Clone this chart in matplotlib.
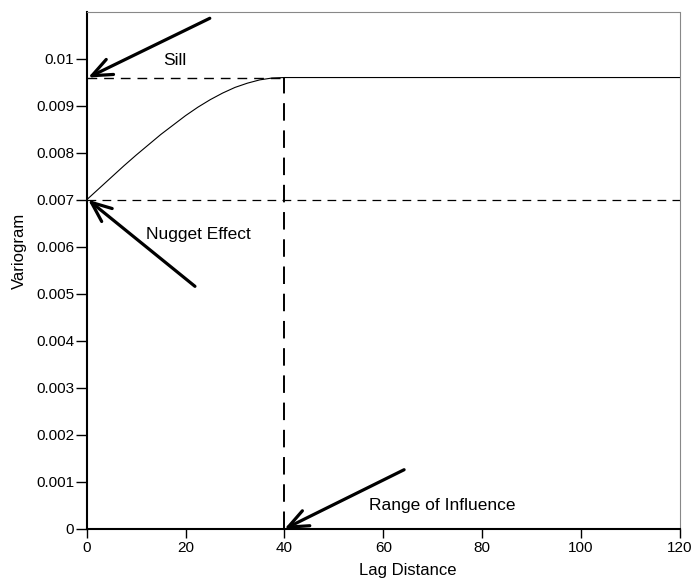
import matplotlib.pyplot as plt

plt.rcParams["font.family"] = ["Liberation Sans", "DejaVu Sans"]

# Variogram model read at a few lag distances
lag = [0, 2.5, 5, 7.5, 10, 12.5, 15, 17.5, 20, 22.5, 25, 27.5, 30, 32.5, 35, 37.5, 40, 120]
gamma = [0.00700, 0.00724, 0.00748, 0.00772, 0.00795, 0.00817, 0.00839, 0.00859,
         0.00879, 0.00897, 0.00913, 0.00927, 0.00939, 0.00948, 0.00955, 0.00959,
         0.00960, 0.00960]

nugget = 0.007
sill = 0.0096
range_of_influence = 40

fig = plt.figure(figsize=(6.94, 5.82), dpi=100)
ax = fig.add_axes([0.1249, 0.0911, 0.8549, 0.8888])

ax.plot(lag, gamma, color="black", lw=0.8)

# Reference lines for sill, nugget and range
ax.plot([0, range_of_influence], [sill, sill], color="black", lw=1.0, ls=(0, (7, 5)))
ax.plot([0, 120], [nugget, nugget], color="black", lw=0.9, ls=(0, (7, 5)))
ax.plot([range_of_influence, range_of_influence], [0, sill], color="black", lw=1.4,
        ls=(0, (9, 5)))

arrow = dict(arrowstyle="->,head_length=1.2,head_width=0.5", lw=2.3, color="black",
             shrinkA=0, shrinkB=0)
ax.annotate("", xy=(0.3, sill), xytext=(24.9, 0.01086), arrowprops=arrow, fontsize=12)
ax.annotate("", xy=(0.3, nugget), xytext=(21.9, 0.00516), arrowprops=arrow, fontsize=12)
ax.annotate("", xy=(range_of_influence, 0), xytext=(64.2, 0.00126), arrowprops=arrow,
            fontsize=12)

ax.text(15.4, 0.00996, "Sill", fontsize=12.5, va="center", ha="left")
ax.text(12.0, 0.00626, "Nugget Effect", fontsize=12.5, va="center", ha="left")
ax.text(57.1, 0.00049, "Range of Influence", fontsize=12.5, va="center", ha="left")

ax.set_xlim(0, 120)
ax.set_ylim(0, 0.011)
ax.set_xticks([0, 20, 40, 60, 80, 100, 120])
ax.set_yticks([0, 0.001, 0.002, 0.003, 0.004, 0.005, 0.006, 0.007, 0.008, 0.009, 0.01])
ax.set_yticklabels(["0", "0.001", "0.002", "0.003", "0.004", "0.005", "0.006",
                    "0.007", "0.008", "0.009", "0.01"])
ax.tick_params(direction="out", length=8, width=1, labelsize=11, pad=1)
ax.tick_params(axis="x", length=6.5, pad=2)

ax.set_xlabel("Lag Distance", fontsize=12)
ax.set_ylabel("Variogram", fontsize=12)
ax.xaxis.set_label_coords(0.542, -0.065)
ax.yaxis.set_label_coords(-0.10, 0.538)

ax.spines["left"].set_linewidth(1.5)
ax.spines["bottom"].set_linewidth(1.5)
for side in ["top", "right"]:
    ax.spines[side].set_color("#888888")
    ax.spines[side].set_linewidth(0.8)
ax.spines["top"].set_linestyle((0, (1, 1)))

fig.savefig("out.png", dpi=100)
